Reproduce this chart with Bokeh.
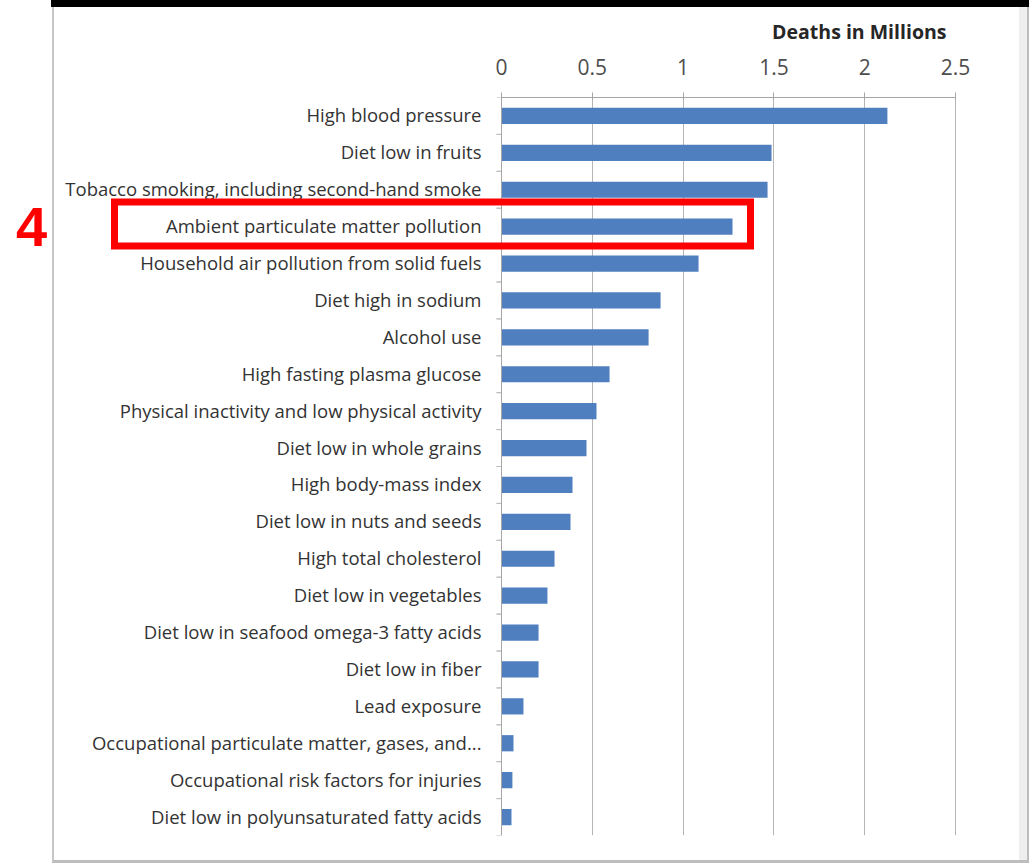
from bokeh.plotting import figure
from bokeh.models import (Range1d, FactorRange, BoxAnnotation, Label, LinearAxis, FixedTicker,
                          Span, ColumnDataSource, InlineStyleSheet)
from bokeh.core.properties import value
from bokeh.transform import dodge
from bokeh.embed import file_html
from bokeh.resources import INLINE

categories = [
    "High blood pressure",
    "Diet low in fruits",
    "Tobacco smoking, including second-hand smoke",
    "Ambient particulate matter pollution",
    "Household air pollution from solid fuels",
    "Diet high in sodium",
    "Alcohol use",
    "High fasting plasma glucose",
    "Physical inactivity and low physical activity",
    "Diet low in whole grains",
    "High body-mass index",
    "Diet low in nuts and seeds",
    "High total cholesterol",
    "Diet low in vegetables",
    "Diet low in seafood omega-3 fatty acids",
    "Diet low in fiber",
    "Lead exposure",
    "Occupational particulate matter, gases, and...",
    "Occupational risk factors for injuries",
    "Diet low in polyunsaturated fatty acids",
]
deaths_millions = [2.125, 1.487, 1.465, 1.272, 1.085, 0.876, 0.81, 0.595, 0.523, 0.468,
                   0.391, 0.38, 0.292, 0.253, 0.204, 0.204, 0.121, 0.066, 0.06, 0.055]
x_ticks = [0, 0.5, 1, 1.5, 2, 2.5]
axis_title = "Deaths in Millions"
highlight_label = "4"

FONT = "Open Sans"
W, H = 1031, 864
ZERO_PX, MAX_PX = 501, 955          # where 0 and 2.5 sit on the canvas
px_per_unit = (MAX_PX - ZERO_PX) / (x_ticks[-1] - x_ticks[0])
x_start = x_ticks[0] - ZERO_PX / px_per_unit
x_end = x_ticks[-1] + (W - MAX_PX) / px_per_unit

p = figure(width=W, height=H, output_backend="svg", toolbar_location=None,
           x_range=Range1d(x_start, x_end),
           y_range=FactorRange(factors=list(reversed(categories))),
           x_axis_location=None, y_axis_location=None,
           min_border_left=0, min_border_right=0, min_border_top=97, min_border_bottom=29)
p.outline_line_color = None
p.background_fill_color = None
p.border_fill_color = None

# decorative panel frame (black bar on top, grey borders) as host background
p.stylesheets = [InlineStyleSheet(css="""
:host {
  background:
    linear-gradient(#000000, #000000) 51px 0px / 978px 7px no-repeat,
    linear-gradient(#c6c6c6, #c6c6c6) 52px 7px / 2px 855px no-repeat,
    linear-gradient(#bdbdbd, #bdbdbd) 52px 860px / 977px 3px no-repeat,
    linear-gradient(#eeeeee, #eeeeee) 1019px 7px / 8px 853px no-repeat,
    linear-gradient(#bdbdbd, #bdbdbd) 1027px 7px / 2px 855px no-repeat,
    #ffffff !important;
}
""")]

src = ColumnDataSource(data=dict(cat=categories, val=deaths_millions))

p.xgrid.ticker = FixedTicker(ticks=x_ticks)
p.xgrid.grid_line_color = "#b5b5b5"
p.ygrid.grid_line_color = None

p.hbar(y="cat", right="val", left=0, height=0.44, source=src,
       fill_color="#4F7FBF", line_color=None)

# vertical category axis line with small ticks between categories
p.add_layout(Span(location=0, dimension="height", line_color="#a6a6a6", line_width=1))
tick_len = 5 / px_per_unit
for off in (-0.5, 0.5):
    yy = dodge("cat", off, range=p.y_range)
    p.segment(x0=-tick_len, x1=0, y0=yy, y1=yy, source=src,
              line_color="#bdbdbd", line_width=1)

# category labels
p.text(x=0, y="cat", text="cat", source=src, x_offset=-20, y_offset=-1, text_align="right",
       text_baseline="middle", text_font=value(FONT), text_font_size="18.5px",
       text_color="#333333")

# top axis
xa = LinearAxis(ticker=FixedTicker(ticks=x_ticks), bounds=(x_ticks[0], x_ticks[-1]))
xa.axis_line_color = "#a6a6a6"
xa.major_tick_line_color = "#a6a6a6"
xa.major_tick_out = 5
xa.major_tick_in = 3
xa.minor_tick_line_color = None
xa.major_label_standoff = 18
xa.major_label_text_font = FONT
xa.major_label_text_font_size = "21px"
xa.major_label_text_color = "#4d4d4d"
p.add_layout(xa, "above")

p.title.text = axis_title
p.title.align = "right"
p.title.offset = W - 946
p.title.standoff = 21
p.title.text_font = FONT
p.title.text_font_style = "bold"
p.title.text_font_size = "19.5px"
p.title.text_color = "#262626"

# red highlight box and number (screen units relative to the frame)
FRAME_BOTTOM = H - 29
p.add_layout(BoxAnnotation(left=114, right=750, bottom=FRAME_BOTTOM - 245.5, top=FRAME_BOTTOM - 201.5,
                           left_units="screen", right_units="screen",
                           bottom_units="screen", top_units="screen",
                           fill_color=None, fill_alpha=0, line_color="#ff0000",
                           line_width=7, line_alpha=1, line_join="miter"))
p.add_layout(Label(x=31, y=FRAME_BOTTOM - 226, x_units="screen", y_units="screen",
                   text=highlight_label, text_align="center", text_baseline="middle",
                   text_font="Liberation Sans", text_font_style="bold",
                   text_font_size="56px", text_color="#ff0000"))

open("out.html", "w").write(file_html(p, INLINE))
